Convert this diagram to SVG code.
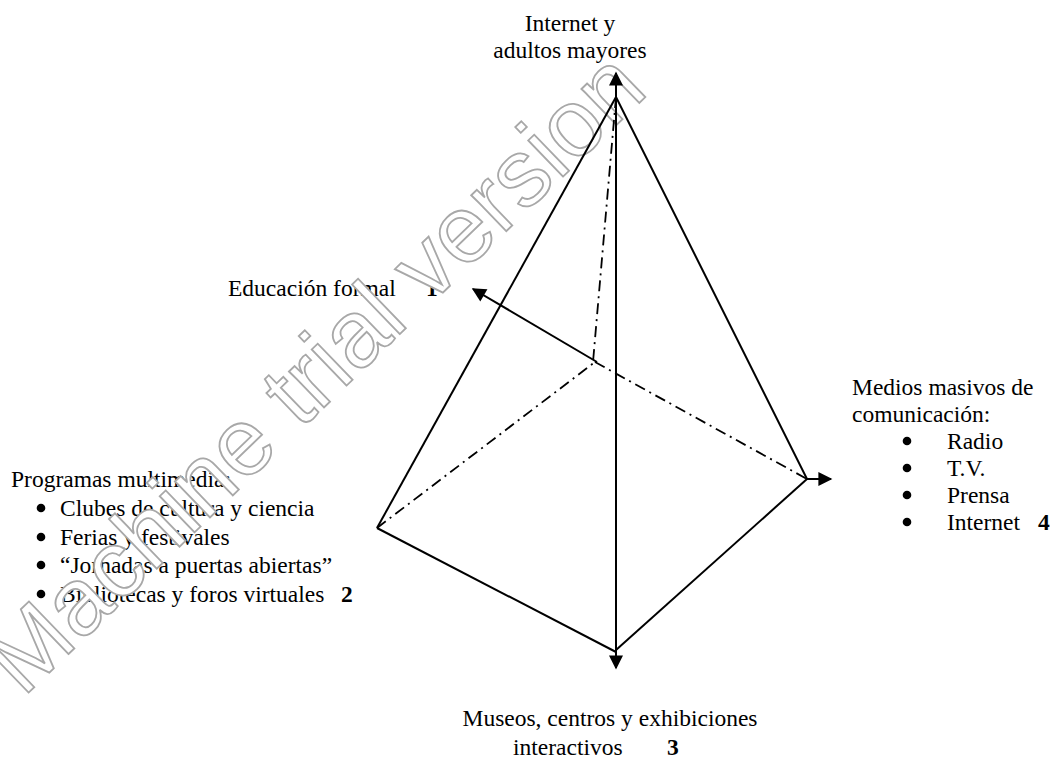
<svg xmlns="http://www.w3.org/2000/svg" width="1056" height="763" viewBox="0 0 1056 763">
<defs>
<style>
.t{font-family:"Liberation Serif","Times New Roman",serif;font-size:23.5px;fill:#000}
.b{font-weight:bold}
.bu{fill:#000}
.ln{stroke:#000;stroke-width:2;fill:none}
.dd{stroke:#000;stroke-width:1.8;fill:none;stroke-dasharray:11 5 2 5}
.wm{font-family:"Liberation Sans",Arial,sans-serif;font-size:95px;fill:#fff;stroke:#a8a8a8;stroke-width:1.8}
</style>
<marker id="ah" viewBox="0 0 10 10" refX="9" refY="5" markerWidth="7.5" markerHeight="7" markerUnits="strokeWidth" orient="auto">
<path d="M0,0 L10,5 L0,10 z" fill="#000"/>
</marker>
</defs>
<rect width="1056" height="763" fill="#fff"/>

<g id="node-internet">
<text class="t" x="570" y="31" text-anchor="middle">Internet y</text>
<text class="t" x="570" y="58" text-anchor="middle">adultos mayores</text>
</g>
<g id="node-educacion">
<text class="t" x="228" y="296">Educación formal</text>
<text class="t b" x="426" y="296">1</text>
</g>
<g id="node-programas">
<text class="t" x="11" y="487">Programas multimedia:</text>
<circle class="bu" cx="41" cy="508" r="4.3"/><text class="t" x="60" y="516">Clubes de cultura y ciencia</text>
<circle class="bu" cx="41" cy="537" r="4.3"/><text class="t" x="60" y="545">Ferias y festivales</text>
<circle class="bu" cx="41" cy="565" r="4.3"/><text class="t" x="60" y="573">“Jornadas a  puertas abiertas”</text>
<circle class="bu" cx="41" cy="594" r="4.3"/><text class="t" x="60" y="602">Bibliotecas y foros virtuales</text>
<text class="t b" x="341" y="602">2</text>
</g>
<g id="node-medios">
<text class="t" x="852" y="395">Medios masivos de</text>
<text class="t" x="852" y="422">comunicación:</text>
<circle class="bu" cx="907" cy="441" r="4.3"/><text class="t" x="947" y="449">Radio</text>
<circle class="bu" cx="907" cy="468" r="4.3"/><text class="t" x="947" y="476">T.V.</text>
<circle class="bu" cx="907" cy="495" r="4.3"/><text class="t" x="947" y="503">Prensa</text>
<circle class="bu" cx="907" cy="522" r="4.3"/><text class="t" x="947" y="530">Internet</text>
<text class="t b" x="1038" y="530">4</text>
</g>
<g id="node-museos">
<text class="t" x="610" y="726" text-anchor="middle">Museos, centros y exhibiciones</text>
<text class="t" x="513" y="755">interactivos</text>
<text class="t b" x="667" y="755">3</text>
</g>

<g id="watermark">
<text class="wm" transform="translate(23,698) rotate(-44)">Machine trial version</text>
</g>

<g id="connectors">
<line class="dd" x1="616" y1="97" x2="593" y2="362"/>
<line class="dd" x1="377" y1="528" x2="595" y2="362"/>
<line class="dd" x1="595" y1="362" x2="807" y2="479"/>
<line class="ln" x1="616" y1="97" x2="377" y2="528"/>
<line class="ln" x1="616" y1="97" x2="807" y2="479"/>
<line class="ln" x1="377" y1="528" x2="616" y2="652"/>
<line class="ln" x1="616" y1="650" x2="807" y2="479"/>
<line class="ln" x1="616" y1="98" x2="616" y2="73" marker-end="url(#ah)"/>
<line class="ln" x1="616" y1="97" x2="616" y2="668" marker-end="url(#ah)"/>
<line class="ln" x1="807" y1="479" x2="831" y2="479" marker-end="url(#ah)"/>
<line class="ln" x1="597" y1="362" x2="473" y2="289" marker-end="url(#ah)"/>
</g>
</svg>
